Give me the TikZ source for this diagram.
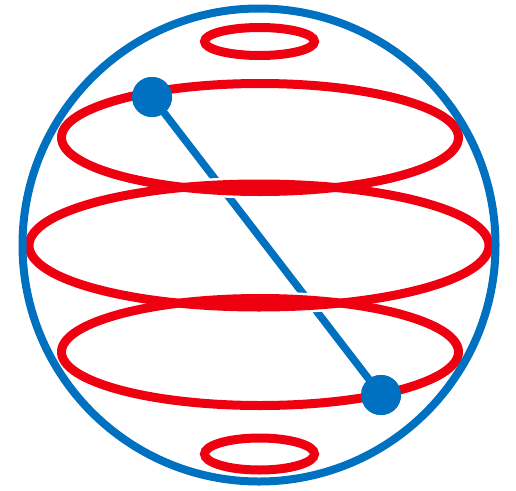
\documentclass[tikz,border=0pt]{standalone}
\definecolor{sphereblue}{RGB}{0,112,192}
\definecolor{latred}{RGB}{238,0,16}
\tikzset{
  lat/.style={draw=latred, line width=9pt},
  halo/.style={draw=white, line width=14pt},
  dotnode/.style={circle, fill=sphereblue, inner sep=0pt, minimum size=40pt},
  axis/.style={draw=sphereblue, line width=7.5pt},
}
\begin{document}
\begin{tikzpicture}[x=1pt,y=-1pt]
\useasboundingbox (0,0) rectangle (516,490);
\node[dotnode] (p1) at (152,97) {};
\node[dotnode] (p2) at (381,395) {};
\draw[axis] (p1.center) -- (p2.center);
% white halos so the axis shows small breaks under the red circles
\foreach \cx/\cy/\rx/\ry in {260/137.5/198.5/54, 259/245.5/230/61.5, 260/352/198.5/53.5}{
  \draw[halo] (\cx,\cy) ellipse [x radius=\rx, y radius=\ry];
}
\foreach \cx/\cy/\rx/\ry in {259.5/41.5/55/14, 260/137.5/198.5/54, 259/245.5/230/61.5, 260/352/198.5/53.5, 259.5/454/55/16}{
  \draw[lat] (\cx,\cy) ellipse [x radius=\rx, y radius=\ry];
}
\draw[draw=sphereblue, line width=8pt] (259,245) circle [radius=236.5];
\node[dotnode] at (p1) {};
\node[dotnode] at (p2) {};
\end{tikzpicture}
\end{document}
